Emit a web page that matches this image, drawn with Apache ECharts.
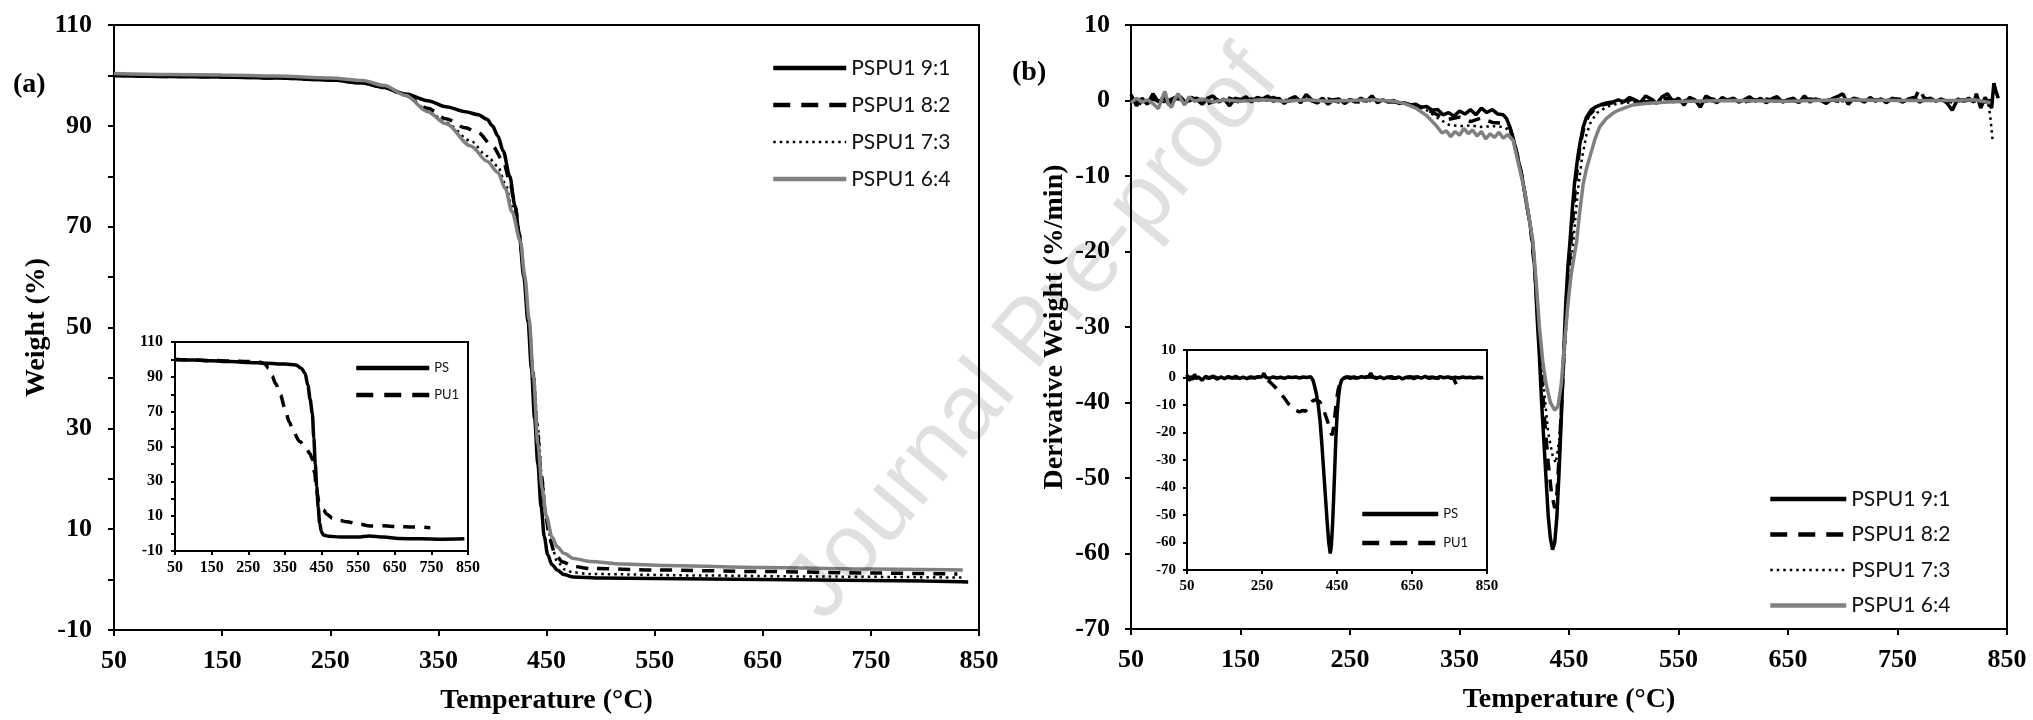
<!DOCTYPE html>
<html>
<head>
<meta charset="utf-8">
<script src="https://cdn.jsdelivr.net/npm/echarts@6.0.0/dist/echarts.min.js"></script>
<style>
html, body { margin: 0; padding: 0; background: #fff; }
#chart { width: 2033px; height: 720px; }
</style>
</head>
<body>
<div id="chart"></div>
<script>
// series names
var mixNames = ['PSPU1 9:1', 'PSPU1 8:2', 'PSPU1 7:3', 'PSPU1 6:4'];
var pureNames = ['PS', 'PU1'];

// (a) TGA, [temperature °C, weight %]
var tga91 = [[50,100],[100,99.8],[150,99.7],[200,99.5],[250,99.1],[280,98.5],[300,97.6],[320,96.3],[340,95],[357,93.8],[375,92.8],[387,92.2],[395,91.3],[400,90],[405,88],[410,85],[416,80],[421,74],[425,68],[429,60],[433,51],[436,42],[439,32],[442,23],[445,14.5],[448,8.5],[451,5],[455,3],[460,1.9],[466,1],[475,0.5],[500,0.3],[600,0.1],[700,-0.1],[800,-0.3],[840,-0.5]];
var tga82 = [[50,100],[100,99.8],[150,99.7],[200,99.5],[250,99.1],[280,98.5],[300,97.6],[320,96],[340,93.5],[357,91.4],[375,89.6],[387,88.6],[400,86],[410,83],[416,79],[421,74],[425,68.5],[429,61],[433,52],[437,42],[441,31],[445,21],[449,13],[453,8],[458,5],[465,3.5],[475,2.6],[490,2.2],[550,1.9],[650,1.6],[750,1.3],[830,1.1]];
var tga73 = [[50,100],[100,99.9],[150,99.8],[200,99.6],[250,99.2],[280,98.6],[300,97.8],[320,96],[340,93.2],[357,90.6],[380,87],[395,84],[405,82],[412,78.5],[418,74],[425,68],[430,60],[434,51.5],[438,41],[442,30],[446,20],[450,12.5],[455,6.5],[460,3.5],[467,2],[475,1.4],[490,1.1],[600,0.8],[700,0.6],[835,0.4]];
var tga64 = [[50,100.4],[100,100.2],[150,100.1],[200,99.9],[250,99.5],[280,99],[300,98],[320,96],[340,92.8],[357,90.4],[380,86],[395,83],[405,80.8],[412,77.5],[418,73],[426,67],[430,60],[434,51.5],[438,40],[442,27],[446,18],[450,12.5],[455,8.5],[460,6.5],[466,5.2],[475,4.2],[490,3.6],[520,3.1],[560,2.8],[650,2.4],[750,2.1],[835,1.9]];
var tgaPS = [[50,100],[100,99.6],[150,99.2],[200,98.8],[250,98.3],[300,97.8],[350,97.3],[380,96.8],[395,95],[405,92],[413,85],[419,77],[425,69],[429,55],[433,40],[437,27],[441,15],[445,6],[450,1],[455,-0.8],[470,-1.5],[500,-2],[550,-2],[580,-1.4],[620,-2],[660,-2.8],[720,-3],[780,-3.2],[840,-3]];
var tgaPU1 = [[50,100],[100,99.7],[150,99.4],[200,99.1],[250,98.8],[280,98.5],[295,97.5],[305,95],[315,90.5],[325,86],[338,79.6],[350,72],[362,64],[373,58.5],[390,53],[408,49.2],[418,46],[425,42.7],[431,35],[437,24.2],[443,18],[449,15.5],[455,13.6],[465,11],[480,8.8],[500,7.5],[519,6.8],[550,5.5],[583,4.4],[620,4.5],[655,4],[700,3.8],[747,3.4]];

// (b) DTG, [temperature °C, derivative weight %/min]
var dtg91 = [[50,0.8],[55,-0.7],[60,0.3],[65,-0.5],[70,0.9],[75,-0.2],[80,0.4],[85,-0.6],[90,0.2],[95,0.5],[100,-0.3],[105,0.4],[110,0.1],[115,-0.5],[120,0.3],[125,0.6],[130,-0.2],[135,0.2],[140,-0.7],[145,0.3],[150,0.1],[155,0.5],[160,-0.2],[165,0.4],[170,0.2],[175,0.6],[180,-0.1],[185,0.3],[190,-0.4],[195,0.2],[200,0.5],[205,-0.3],[210,0.8],[215,0.1],[220,-0.2],[225,0.3],[230,-0.5],[235,0.1],[240,0.2],[245,-0.4],[250,0.1],[255,-0.2],[260,0.3],[265,-0.1],[270,0.6],[275,-0.3],[280,0.1],[285,-0.2],[290,0],[295,-0.4],[300,-0.3],[305,-0.6],[310,-0.5],[315,-0.9],[320,-0.8],[325,-1.3],[330,-1.2],[335,-1.9],[340,-1.6],[345,-2.1],[350,-1.4],[355,-1.8],[360,-1.2],[365,-1.9],[370,-1.0],[375,-1.6],[380,-1.2],[385,-1.8],[390,-1.9],[393,-2.4],[396,-3.5],[399,-5],[403,-7.5],[407,-10],[411,-13.5],[414,-16],[417,-19],[419,-23],[421,-29],[423,-34],[425,-40],[427,-45],[429,-50],[431,-55],[433,-58],[435,-59.5],[437,-58.5],[439,-55],[441,-49],[443,-42],[445,-34],[447,-27],[449,-22],[451,-18.5],[453,-14.5],[455,-11],[458,-7.5],[460,-5.7],[463,-3.5],[466,-2.2],[470,-1.3],[475,-0.8],[480,-0.5],[485,-0.3],[490,-0.2],[495,0.1],[500,-0.2],[505,0.4],[510,0.1],[515,-0.3],[520,0.6],[525,0.2],[530,-0.4],[535,0.5],[540,0.9],[545,-0.2],[550,0.3],[555,-0.6],[560,0.4],[565,0.1],[570,-0.9],[575,0.6],[580,0.2],[585,-0.3],[590,0.4],[595,0],[600,0.3],[605,-0.2],[610,0.1],[615,0.5],[620,-0.1],[625,0.3],[630,-0.3],[635,0.2],[640,0.5],[645,-0.2],[650,0.1],[655,0.3],[660,-0.3],[665,0.6],[670,-0.2],[675,0.2],[680,0],[685,-0.4],[690,0.2],[695,0.5],[700,0.9],[705,-0.5],[710,0.3],[715,0.1],[720,-0.2],[725,0.4],[730,-0.1],[735,0.2],[740,-0.3],[745,0.3],[750,0.1],[755,-0.2],[760,0.2],[765,0.4],[770,-0.2],[775,0.1],[780,0.3],[785,-0.1],[790,0.2],[795,-0.3],[800,-1.3],[805,0.2],[810,-0.1],[815,0.3],[820,-0.2],[822,0.9],[826,-1],[830,0.4],[834,-0.6],[836,-1],[838,2.3],[840,1.2],[842,0.3]];
var dtg82 = [[50,0.3],[60,-0.5],[70,0.2],[80,-0.3],[90,0.4],[100,-0.2],[110,0.3],[120,-0.4],[130,0.1],[140,0.3],[150,-0.3],[160,0.2],[170,-0.1],[180,0.4],[190,-0.2],[200,0.1],[210,0.3],[220,-0.3],[230,0.2],[240,-0.2],[250,0.1],[260,-0.3],[270,0.2],[280,-0.1],[290,-0.2],[300,-0.4],[310,-0.7],[320,-1.2],[330,-1.9],[340,-2.5],[350,-2.2],[360,-2.8],[370,-2.3],[380,-2.9],[390,-3.0],[396,-3.6],[400,-5.5],[405,-8.5],[410,-12.5],[415,-17],[419,-23],[423,-32],[427,-41],[431,-48],[434,-52],[437,-54],[439,-52],[441,-47],[443,-41],[446,-32],[449,-24],[452,-18.5],[456,-11],[460,-6],[464,-3.3],[468,-2],[474,-1.1],[480,-0.6],[490,-0.3],[500,-0.1],[510,0.2],[520,-0.2],[530,0.1],[540,0.3],[550,-0.2],[560,0.1],[570,-0.3],[580,0.2],[590,0],[600,0.2],[610,-0.2],[620,0.1],[630,0.2],[640,-0.1],[650,0.1],[660,-0.2],[670,0.2],[680,0],[690,0.1],[700,-0.2],[710,0.2],[720,0],[730,0.1],[740,-0.1],[750,0.2],[760,0],[766,0.3],[770,1.5],[774,0.4],[780,0],[790,0.1],[800,-0.2],[810,0.1],[820,0],[830,-0.2],[838,0.1]];
var dtg73 = [[50,0.2],[60,-0.3],[70,0.1],[80,-0.2],[90,0.2],[100,0],[120,0.2],[140,-0.2],[160,0.1],[180,-0.1],[200,0.2],[220,-0.2],[240,0.1],[260,-0.1],[280,0],[300,-0.3],[310,-0.7],[320,-1.3],[330,-2.3],[340,-3.2],[350,-3.4],[360,-3.3],[370,-3.5],[380,-3.4],[390,-3.5],[396,-4],[400,-5.5],[405,-8.5],[410,-12.5],[415,-17],[419,-23],[423,-31],[427,-38],[431,-44],[435,-47],[438,-48],[441,-45],[444,-38],[447,-31],[450,-25],[454,-18.6],[458,-12],[462,-7.5],[466,-4.5],[470,-2.8],[476,-1.6],[485,-0.8],[495,-0.4],[510,-0.2],[540,0],[580,-0.1],[620,0.1],[660,0],[700,-0.1],[740,0.1],[780,0],[810,-0.1],[830,0],[833,-0.3],[835,-2.5],[837,-5.5]];
var dtg64 = [[50,-0.3],[55,0.3],[60,-0.2],[65,0.1],[70,-0.4],[75,-1.1],[78,0.2],[81,1.2],[84,-0.4],[87,-0.9],[90,0.2],[93,0.9],[96,0.1],[99,-0.6],[103,0.5],[108,-0.1],[115,0.2],[125,-0.2],[135,0.1],[150,-0.1],[170,0.1],[190,-0.1],[210,0.1],[230,-0.1],[250,0],[270,0.1],[290,-0.1],[300,-0.4],[310,-1],[320,-2],[328,-3.2],[334,-4.3],[338,-4],[342,-4.8],[346,-4.1],[350,-4.6],[354,-3.7],[358,-4.4],[362,-3.9],[366,-4.7],[370,-4.1],[374,-5.1],[378,-4.4],[382,-4.9],[386,-4.2],[390,-5],[394,-4.5],[399,-5.3],[404,-8.5],[408,-11],[411,-13.2],[414,-16],[417,-18.6],[420,-24],[423,-30],[426,-34.5],[429,-37.5],[433,-40],[437,-41],[440,-40.5],[443,-37.5],[446,-32],[449,-27],[452,-23],[457,-18.6],[460,-14.5],[463,-11],[466,-9],[469,-7.5],[474,-5],[478,-3.5],[484,-2.4],[490,-1.7],[495,-1.3],[502,-0.9],[508,-0.6],[520,-0.4],[540,-0.2],[560,-0.1],[600,0],[650,-0.1],[700,0.1],[750,0],[800,0],[820,0.1],[835,-0.3]];
var dtgPS = [[50,1],[55,-1.2],[60,0.5],[65,-0.8],[70,1.2],[75,-0.5],[80,0.3],[90,-1],[100,0.4],[110,-0.3],[120,0.5],[130,-0.6],[140,0.2],[150,-0.4],[160,0.3],[170,-0.2],[180,0.4],[190,-0.3],[200,0.1],[210,-0.4],[220,0.2],[230,-0.2],[240,0.3],[250,0.2],[255,1.6],[260,0.1],[270,-0.3],[280,0.2],[290,-0.2],[300,0.1],[310,-0.3],[320,0.2],[330,0],[340,0.2],[350,-0.2],[360,0.2],[370,0],[380,0.3],[386,-1],[390,-3],[395,-6],[400,-10],[405,-16],[410,-25],[415,-35],[420,-45],[424,-53],[428,-60],[432,-64],[435,-61],[438,-54],[441,-44],[444,-33],[447,-22],[450,-14],[454,-7],[458,-3],[462,-1],[468,-0.2],[475,0.2],[485,-0.3],[495,0.2],[505,-0.2],[515,0.3],[525,0],[535,0.4],[540,1.6],[545,0.2],[555,-0.3],[565,0.2],[575,-0.4],[585,0.1],[595,0.3],[605,-0.3],[615,0.2],[625,-0.5],[635,0.1],[645,0.3],[655,-0.4],[665,0.2],[675,-0.2],[685,0.4],[695,-0.3],[705,0.1],[715,-0.2],[725,0.3],[735,-0.1],[745,0.2],[755,-0.3],[765,0.1],[775,-0.2],[785,0.2],[795,-0.1],[805,0.1],[815,-0.2],[825,0.1],[835,-0.1],[840,0]];
var dtgPU1 = [[50,0.3],[60,-0.5],[70,0.2],[80,-0.4],[90,0.3],[100,-0.2],[120,0.2],[140,-0.3],[160,0.1],[180,-0.2],[200,0.2],[220,-0.1],[240,0.1],[250,0],[260,-0.6],[270,-1.5],[280,-2.8],[290,-4.2],[300,-6],[310,-7.5],[320,-9.5],[330,-11],[340,-12],[350,-12.5],[358,-12],[366,-12.3],[375,-10.5],[385,-8.5],[395,-8],[405,-9],[415,-12],[425,-16],[432,-19.5],[437,-21],[441,-18],[445,-13],[449,-8],[453,-4.5],[458,-2],[464,-0.8],[470,-0.2],[480,0.2],[500,-0.2],[520,0.1],[540,0.3],[560,-0.2],[580,0.1],[600,-0.3],[620,0.2],[640,-0.1],[660,0.2],[680,-0.2],[700,0.1],[720,-0.3],[740,0.2],[760,-0.1],[768,-2.5],[772,-0.5],[780,0]];

var serif = 'Liberation Serif';
var black = '#000';
var grey = '#808080';

function axis(grid, min, max, step, size, tick, margin, extra) {
  var a = {
    type: 'value', gridIndex: grid, min: min, max: max, interval: step,
    axisLine: { show: true, onZero: false, lineStyle: { color: black, width: 2 } },
    axisTick: { show: true, length: tick, lineStyle: { color: black, width: 2 } },
    axisLabel: { color: black, fontFamily: serif, fontWeight: 'bold', fontSize: size, margin: margin, showMinLabel: true, showMaxLabel: true },
    splitLine: { show: false }
  };
  return Object.assign(a, extra || {});
}
// labels on every other tick (110, 90 ... -10)
function everyOther(v) { return (v + 10) % 20 === 0 ? v : ''; }

var axisName = { fontFamily: serif, fontWeight: 'bold', fontSize: 28, color: black };

// line look per series
var looks = [
  { color: black, width: 3.5, type: 'solid' },
  { color: black, width: 3.5, type: [12, 9] },
  { color: black, width: 2.5, type: [2.5, 4] },
  { color: grey, width: 3.5, type: 'solid' }
];

function line(name, data, look, grid, smooth) {
  return {
    name: name, type: 'line', data: data, xAxisIndex: grid, yAxisIndex: grid,
    symbol: 'none', smooth: smooth ? 0.3 : false, smoothMonotone: 'x',
    lineStyle: { color: look.color, width: look.width, type: look.type },
    itemStyle: { color: look.color }
  };
}

// legend entries, drawn a little heavier than the curves, with longer dashes
var legendLines = [
  { width: 4.5 },
  { width: 4.5, type: [17, 11] },
  { width: 2.5 },
  { width: 4.5 }
];
function legendItems(names) {
  return names.map(function (n, i) {
    return { name: n, lineStyle: legendLines[i] };
  });
}

var legendText = { fontFamily: 'Lato', fontSize: 21, lineHeight: 22, color: '#111' };
var legendSmall = { fontFamily: 'Lato', fontSize: 13, lineHeight: 14, color: '#111' };
// hide the marker dot drawn in the middle of each legend line
var noDot = { opacity: 0 };

var chart = echarts.init(document.getElementById('chart'));
chart.setOption({
  animation: false,
  backgroundColor: '#fff',
  grid: [
    { left: 114, top: 25, width: 865, height: 605, show: true, borderColor: black, borderWidth: 2 },
    { left: 1131, top: 25, width: 876, height: 604, show: true, borderColor: black, borderWidth: 2 },
    { left: 175, top: 342, width: 293, height: 209, show: true, borderColor: black, borderWidth: 2, backgroundColor: '#fff' },
    { left: 1187, top: 350, width: 300, height: 220, show: true, borderColor: black, borderWidth: 2, backgroundColor: '#fff' }
  ],
  xAxis: [
    axis(0, 50, 850, 100, 26, 6, 18, { name: 'Temperature (°C)', nameLocation: 'middle', nameGap: 57, nameTextStyle: axisName }),
    axis(1, 50, 850, 100, 26, 6, 18, { name: 'Temperature (°C)', nameLocation: 'middle', nameGap: 57, nameTextStyle: axisName }),
    axis(2, 50, 850, 100, 16, 4, 9),
    axis(3, 50, 850, 200, 15, 4, 9)
  ],
  yAxis: [
    axis(0, -10, 110, 10, 26, 6, 22, { name: 'Weight (%)', nameLocation: 'middle', nameGap: 62, nameTextStyle: axisName }),
    axis(1, -70, 10, 10, 26, 6, 21, { name: 'Derivative Weight (%/min)', nameLocation: 'middle', nameGap: 62, nameTextStyle: axisName }),
    axis(2, -10, 110, 10, 16, 4, 12),
    axis(3, -70, 10, 10, 15, 4, 11)
  ],
  legend: [
    { data: legendItems(mixNames), orient: 'vertical', left: 766, top: 52, itemWidth: 73, itemHeight: 14, itemGap: 15, selectedMode: false, itemStyle: noDot, textStyle: legendText },
    { data: legendItems(mixNames), orient: 'vertical', left: 1763, top: 483, itemWidth: 76, itemHeight: 14, itemGap: 13.5, selectedMode: false, itemStyle: noDot, textStyle: legendText },
    { data: legendItems(pureNames), orient: 'vertical', left: 349, top: 356, itemWidth: 73, itemHeight: 10, itemGap: 13, selectedMode: false, itemStyle: noDot, textStyle: legendSmall },
    { data: legendItems(pureNames), orient: 'vertical', left: 1355, top: 502, itemWidth: 76, itemHeight: 10, itemGap: 15, selectedMode: false, itemStyle: noDot, textStyle: legendSmall }
  ],
  graphic: [
    { type: 'text', x: 13, y: 85, style: { text: '(a)', fontFamily: serif, fontWeight: 'bold', fontSize: 28, fill: black, verticalAlign: 'middle' } },
    { type: 'text', x: 1012, y: 73, style: { text: '(b)', fontFamily: serif, fontWeight: 'bold', fontSize: 28, fill: black, verticalAlign: 'middle' } },
    { type: 'text', x: 1033, y: 335, rotation: 50 * Math.PI / 180, silent: true, z: 100,
      style: { text: 'Journal Pre-proof', fontFamily: 'Liberation Sans', fontSize: 92, fill: 'rgba(0,0,0,0.12)', align: 'center', verticalAlign: 'middle' } }
  ],
  series: [
    line(mixNames[0], tga91, looks[0], 0, true),
    line(mixNames[1], tga82, looks[1], 0, true),
    line(mixNames[2], tga73, looks[2], 0, true),
    line(mixNames[3], tga64, looks[3], 0, true),
    line(mixNames[0], dtg91, looks[0], 1, false),
    line(mixNames[1], dtg82, looks[1], 1, false),
    line(mixNames[2], dtg73, looks[2], 1, false),
    line(mixNames[3], dtg64, looks[3], 1, false),
    line(pureNames[0], tgaPS, looks[0], 2, true),
    line(pureNames[1], tgaPU1, looks[1], 2, true),
    line(pureNames[0], dtgPS, looks[0], 3, false),
    line(pureNames[1], dtgPU1, looks[1], 3, false)
  ]
});
// only every other y label on the two weight axes
chart.setOption({ yAxis: [{ axisLabel: { formatter: everyOther } }, {}, { axisLabel: { formatter: everyOther } }, {}] });
</script>
</body>
</html>
